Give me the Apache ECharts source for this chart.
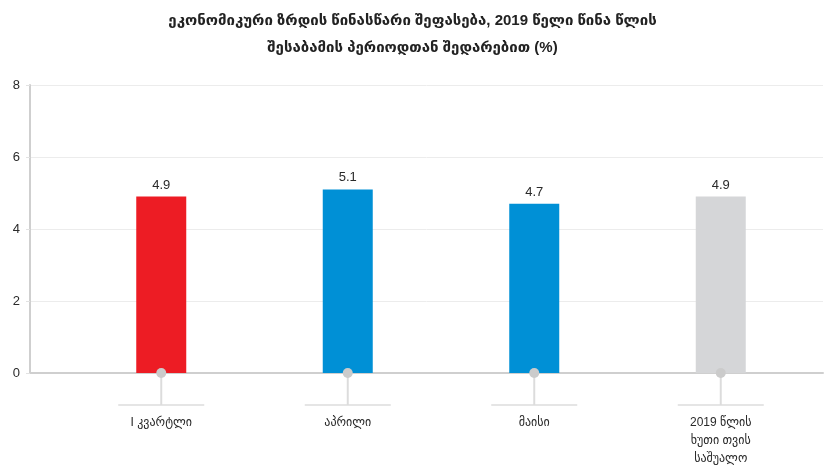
<!DOCTYPE html>
<html>
<head>
<meta charset="utf-8">
<script src="https://cdn.jsdelivr.net/npm/echarts@6/dist/echarts.min.js"></script>
<style>
  html, body { margin: 0; padding: 0; background: #fff; }
  #chart { width: 825px; height: 465px; }
</style>
</head>
<body>
<div id="chart"></div>
<script>
  // data
  const titleText = 'ეკონომიკური ზრდის წინასწარი შეფასება, 2019 წელი წინა წლის\nშესაბამის პერიოდთან შედარებით (%)'
  const categories = ['I კვარტლი', 'აპრილი', 'მაისი', '2019 წლის\nხუთი თვის\nსაშუალო']
  const growth = [4.9, 5.1, 4.7, 4.9]
  const barColors = ['#ED1C24', '#0090D6', '#0090D6', '#D5D6D8']
  const yTicks = { min: 0, max: 8, interval: 2 }

  const font = '"Liberation Sans", "DejaVu Sans", Arial, sans-serif'
  const myChart = echarts.init(document.getElementById('chart'))

  const gridTop = 85
  const gridBottom = 92

  let option = {
    animation: false,
    textStyle: { fontFamily: font },
    title: {
      text: titleText,
      left: 'center',
      top: 2,
      textStyle: {
        fontFamily: font,
        fontSize: 15,
        fontWeight: 'bold',
        color: '#222',
        lineHeight: 27
      }
    },
    grid: [
      // grid with the y axis, split lines and baseline
      { left: 30, right: 2, top: gridTop, bottom: gridBottom, outerBoundsMode: 'none' },
      // grid for the bars
      { left: 68, right: 11, top: gridTop, bottom: gridBottom, outerBoundsMode: 'none' }
    ],
    xAxis: [{
      gridIndex: 0,
      type: 'value',
      min: 0,
      max: 1,
      axisLine: { show: true, onZero: false, lineStyle: { color: '#cfcfcf', width: 2 } },
      axisTick: { show: false },
      axisLabel: { show: false },
      splitLine: { show: false }
    }, {
      gridIndex: 1,
      type: 'category',
      data: categories,
      axisLine: { show: false },
      axisTick: { show: false },
      axisLabel: {
        margin: 41,
        fontSize: 12,
        lineHeight: 18,
        color: '#2a2a2a',
        fontFamily: font,
        interval: 0
      }
    }],
    yAxis: [{
      gridIndex: 0,
      type: 'value',
      min: yTicks.min,
      max: yTicks.max,
      interval: yTicks.interval,
      axisLine: { show: true, lineStyle: { color: '#cfcfcf', width: 2 } },
      axisTick: { show: true, length: 4, lineStyle: { color: '#e2e2e2' } },
      axisLabel: { fontSize: 13, color: '#2a2a2a', margin: 10, fontFamily: font },
      splitLine: { lineStyle: { color: '#ececec' } }
    }, {
      gridIndex: 1,
      type: 'value',
      min: yTicks.min,
      max: yTicks.max,
      interval: yTicks.interval,
      show: false
    }],
    series: [{
      type: 'bar',
      xAxisIndex: 1,
      yAxisIndex: 1,
      barWidth: 50,
      data: growth.map((v, i) => ({ value: v, itemStyle: { color: barColors[i] } })),
      label: {
        show: true,
        position: 'top',
        distance: 5,
        fontSize: 13,
        color: '#2a2a2a',
        fontFamily: font,
        formatter: (p) => p.value.toFixed(1)
      },
      z: 2
    }, {
      // circle + stem + bar under each category
      type: 'custom',
      xAxisIndex: 1,
      yAxisIndex: 1,
      clip: false,
      silent: true,
      z: 5,
      data: categories.map((c, i) => [i, 0]),
      encode: { x: 0, y: 1 },
      renderItem: (params, api) => {
        let p = api.coord([api.value(0), 0])
        let stem = 32
        return {
          type: 'group',
          children: [{
            type: 'line',
            shape: { x1: p[0], y1: p[1], x2: p[0], y2: p[1] + stem },
            style: { stroke: '#dcdcdc', lineWidth: 2 }
          }, {
            type: 'line',
            shape: { x1: p[0] - 43, y1: p[1] + stem, x2: p[0] + 43, y2: p[1] + stem },
            style: { stroke: '#dcdcdc', lineWidth: 1.5 }
          }, {
            type: 'circle',
            shape: { cx: p[0], cy: p[1], r: 5 },
            style: { fill: '#cbcbcb' }
          }]
        }
      }
    }]
  }

  myChart.setOption(option)

  window.addEventListener('resize', () => {
    myChart.resize()
  })
</script>
</body>
</html>
